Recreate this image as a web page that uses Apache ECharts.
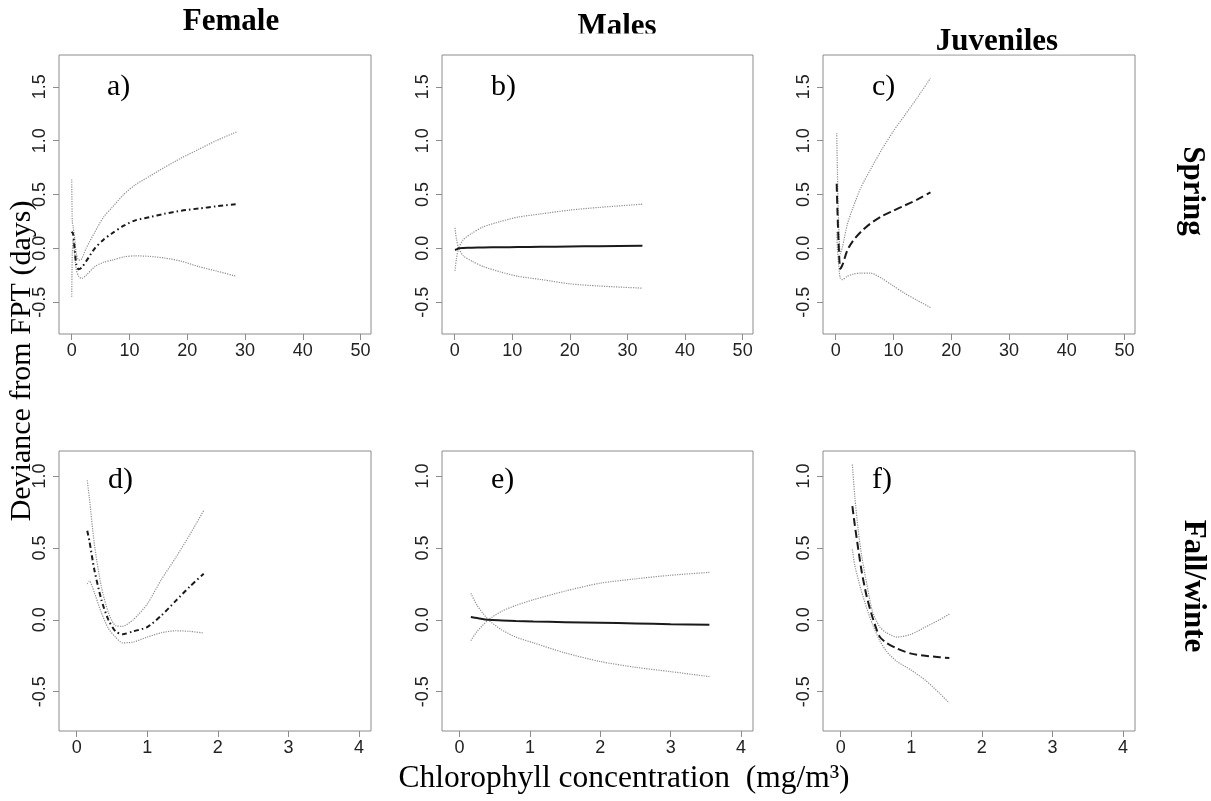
<!DOCTYPE html>
<html>
<head>
<meta charset="utf-8">
<script src="https://cdn.jsdelivr.net/npm/echarts@6/dist/echarts.min.js"></script>
<style>
html,body{margin:0;padding:0;background:#fff;}
#chart{width:1211px;height:801px;}
</style>
</head>
<body>
<div id="chart"></div>
<script>
// ---- Data ----
// a) Female, Spring
const aX   = [0, 0.1, 0.25, 0.5, 0.8, 1.2, 1.7, 2.5, 4, 5.5, 7, 9, 11, 13.5, 16, 19, 22, 25, 28.5];
const aFit = [0.14, 0.15, 0.13, 0.0, -0.15, -0.195, -0.18, -0.12, 0.0, 0.08, 0.14, 0.21, 0.26, 0.29, 0.32, 0.35, 0.37, 0.39, 0.41];
const aUp  = [0.64, 0.25, 0.2, 0.1, -0.05, -0.11, -0.1, 0.0, 0.15, 0.29, 0.38, 0.5, 0.59, 0.67, 0.75, 0.84, 0.92, 1.0, 1.08];
const aLo  = [-0.45, -0.05, 0.08, -0.05, -0.2, -0.26, -0.28, -0.25, -0.17, -0.13, -0.11, -0.08, -0.07, -0.075, -0.09, -0.12, -0.17, -0.21, -0.26];
// b) Males, Spring
const bX   = [0.05, 0.3, 0.7, 1.5, 3, 5, 8, 11, 15, 20, 25, 32.6];
const bFit = [-0.015, -0.01, 0.0, 0.003, 0.006, 0.008, 0.01, 0.012, 0.014, 0.017, 0.02, 0.025];
const bUp  = [-0.21, -0.1, 0.0, 0.08, 0.14, 0.2, 0.25, 0.29, 0.32, 0.355, 0.38, 0.41];
const bLo  = [0.19, 0.09, 0.0, -0.07, -0.12, -0.17, -0.22, -0.26, -0.29, -0.33, -0.35, -0.37];
// c) Juveniles, Spring
const cX   = [0.17, 0.3, 0.5, 0.8, 1.2, 2, 3, 4.4, 6, 8, 10, 12, 14, 16.4];
const cFit = [0.6, 0.35, 0.05, -0.19, -0.15, -0.02, 0.07, 0.155, 0.23, 0.3, 0.35, 0.4, 0.45, 0.52];
const cUp  = [1.07, 0.7, 0.25, -0.05, 0.02, 0.22, 0.38, 0.57, 0.73, 0.92, 1.09, 1.24, 1.39, 1.58];
const cLo  = [0.15, 0.0, -0.15, -0.28, -0.29, -0.26, -0.24, -0.23, -0.23, -0.28, -0.35, -0.42, -0.48, -0.55];
// d) Female, Fall/winter
const dX   = [0.15, 0.18, 0.25, 0.35, 0.45, 0.55, 0.65, 0.8, 1.0, 1.2, 1.4, 1.6, 1.8];
const dFit = [0.62, 0.55, 0.35, 0.14, 0.0, -0.08, -0.1, -0.08, -0.05, 0.03, 0.13, 0.23, 0.32];
const dUp  = [0.97, 0.85, 0.53, 0.23, 0.05, -0.04, -0.045, 0.0, 0.11, 0.28, 0.43, 0.59, 0.76];
const dLo  = [0.25, 0.27, 0.19, 0.05, -0.06, -0.12, -0.16, -0.155, -0.12, -0.09, -0.076, -0.08, -0.092];
// e) Males, Fall/winter
const eX   = [0.16, 0.25, 0.41, 0.6, 0.8, 1.05, 1.5, 2.0, 2.5, 3.0, 3.55];
const eFit = [0.02, 0.012, 0.0, -0.004, -0.008, -0.012, -0.016, -0.02, -0.025, -0.03, -0.035];
const eUp  = [-0.145, -0.08, 0.0, 0.06, 0.1, 0.14, 0.2, 0.255, 0.285, 0.31, 0.33];
const eLo  = [0.185, 0.1, 0.0, -0.07, -0.12, -0.16, -0.23, -0.29, -0.33, -0.36, -0.395];
// f) Juveniles, Fall/winter
const fX   = [0.166, 0.2, 0.25, 0.3, 0.37, 0.45, 0.55, 0.65, 0.8, 1.0, 1.2, 1.4, 1.54];
const fFit = [0.79, 0.66, 0.49, 0.33, 0.16, 0.02, -0.115, -0.16, -0.2, -0.235, -0.25, -0.26, -0.265];
const fUp  = [1.08, 0.86, 0.62, 0.44, 0.25, 0.06, -0.046, -0.09, -0.12, -0.1, -0.05, 0.0, 0.04];
const fLo  = [0.49, 0.38, 0.28, 0.19, 0.08, -0.03, -0.14, -0.22, -0.29, -0.35, -0.42, -0.51, -0.58];

// Tick labels
const xTicksSpring = [0, 10, 20, 30, 40, 50];
const yTicksSpring = [-0.5, 0.0, 0.5, 1.0, 1.5];
const xTicksFall   = [0, 1, 2, 3, 4];
const yTicksFall   = [-0.5, 0.0, 0.5, 1.0];

const panelLetters = ['a)', 'b)', 'c)', 'd)', 'e)', 'f)'];
const columnTitles = ['Female', 'Males', 'Juveniles'];
const rowTitles    = ['Spring', 'Fall/winte'];

// ---- Build chart ----
const zip = (xs, ys) => xs.map((x, i) => [x, ys[i]]);
const panels = [
  {x: aX, fit: aFit, up: aUp, lo: aLo, fitType: [5, 3, 1.5, 3]},
  {x: bX, fit: bFit, up: bUp, lo: bLo, fitType: 'solid'},
  {x: cX, fit: cFit, up: cUp, lo: cLo, fitType: [8, 4]},
  {x: dX, fit: dFit, up: dUp, lo: dLo, fitType: [5, 3, 1.5, 3]},
  {x: eX, fit: eFit, up: eUp, lo: eLo, fitType: 'solid'},
  {x: fX, fit: fFit, up: fUp, lo: fLo, fitType: [8, 4]}
];

const gridPos = [
  {left: 59, top: 55, width: 312, height: 279},
  {left: 442, top: 55, width: 311, height: 279},
  {left: 823, top: 55, width: 312, height: 279},
  {left: 59, top: 451, width: 312, height: 280},
  {left: 442, top: 451, width: 311, height: 280},
  {left: 823, top: 451, width: 312, height: 280}
];

const tickFont = {fontFamily: 'Liberation Sans', fontSize: 18, color: '#222'};
const grids = [], xAxes = [], yAxes = [], series = [];
gridPos.forEach((g, i) => {
  const spring = i < 3;
  grids.push(Object.assign({show: true, borderColor: '#8c8c8c', borderWidth: 1, containLabel: false}, g));
  xAxes.push({
    type: 'value', gridIndex: i, position: 'bottom',
    min: spring ? -2.2 : -0.25, max: spring ? 51.8 : 4.17,
    axisLine: {show: false, onZero: false},
    splitLine: {show: false},
    axisTick: {show: true, length: 6, lineStyle: {color: '#8c8c8c'}, customValues: spring ? xTicksSpring : xTicksFall},
    axisLabel: Object.assign({margin: 8, customValues: spring ? xTicksSpring : xTicksFall, formatter: v => String(v)}, tickFont)
  });
  yAxes.push({
    type: 'value', gridIndex: i, position: 'left',
    min: spring ? -0.796 : -0.773, max: spring ? 1.796 : 1.174,
    axisLine: {show: false, onZero: false},
    splitLine: {show: false},
    axisTick: {show: true, length: 6, lineStyle: {color: '#8c8c8c'}, customValues: spring ? yTicksSpring : yTicksFall},
    axisLabel: Object.assign({margin: 10, rotate: 90, customValues: spring ? yTicksSpring : yTicksFall, formatter: v => v.toFixed(1)}, tickFont)
  });
  const p = panels[i];
  const ci = {type: 'line', xAxisIndex: i, yAxisIndex: i, symbol: 'none', smooth: 0.25, silent: true,
              lineStyle: {color: '#8f8f8f', width: 1.2, type: [1.2, 1.2]}};
  series.push(Object.assign({}, ci, {data: zip(p.x, p.up)}));
  series.push(Object.assign({}, ci, {data: zip(p.x, p.lo)}));
  series.push({type: 'line', xAxisIndex: i, yAxisIndex: i, symbol: 'none', smooth: 0.25, silent: true,
               data: zip(p.x, p.fit), lineStyle: {color: '#1a1a1a', width: 2, type: p.fitType}});
});

const serif = 'Liberation Serif';
const graphics = [];
// Column titles
[[231, 22], [617, 27], [997, 42]].forEach((pos, i) => {
  graphics.push({type: 'text', x: pos[0], y: pos[1], z: 10,
    style: {text: columnTitles[i], fontFamily: serif, fontWeight: 'bold', fontSize: 31, fill: '#000', align: 'center', verticalAlign: 'middle'}});
});
// clipping of the titles in the reference (covered by white)
graphics.push({type: 'rect', z: 11, shape: {x: 560, y: 33.5, width: 120, height: 20.5}, style: {fill: '#fff'}});
graphics.push({type: 'rect', z: 11, shape: {x: 920, y: 52, width: 160, height: 2.3}, style: {fill: '#fff'}});
// Row titles
[[1192, 191], [1193, 586]].forEach((pos, i) => {
  graphics.push({type: 'text', x: pos[0], y: pos[1], rotation: -Math.PI / 2, z: 10,
    style: {text: rowTitles[i], fontFamily: serif, fontWeight: 'bold', fontSize: 31, fill: '#000', align: 'center', verticalAlign: 'middle'}});
});
// Panel letters
[[107, 87], [491, 87], [872, 87], [108, 480], [491, 480], [872, 480]].forEach((pos, i) => {
  graphics.push({type: 'text', x: pos[0], y: pos[1], z: 10,
    style: {text: panelLetters[i], fontFamily: serif, fontSize: 30, fill: '#000', align: 'left', verticalAlign: 'middle'}});
});
// Axis titles
graphics.push({type: 'text', x: 22, y: 361, rotation: Math.PI / 2, z: 10,
  style: {text: 'Deviance from FPT (days)', fontFamily: serif, fontSize: 30, fill: '#000', align: 'center', verticalAlign: 'middle'}});
graphics.push({type: 'text', x: 624, y: 779, z: 10,
  style: {text: 'Chlorophyll concentration  (mg/m³)', fontFamily: serif, fontSize: 31.5, fill: '#000', align: 'center', verticalAlign: 'middle'}});

const chart = echarts.init(document.getElementById('chart'), null, {renderer: 'canvas'});
chart.setOption({
  animation: false,
  backgroundColor: '#fff',
  grid: grids,
  xAxis: xAxes,
  yAxis: yAxes,
  series: series,
  graphic: graphics
});
</script>
</body>
</html>
